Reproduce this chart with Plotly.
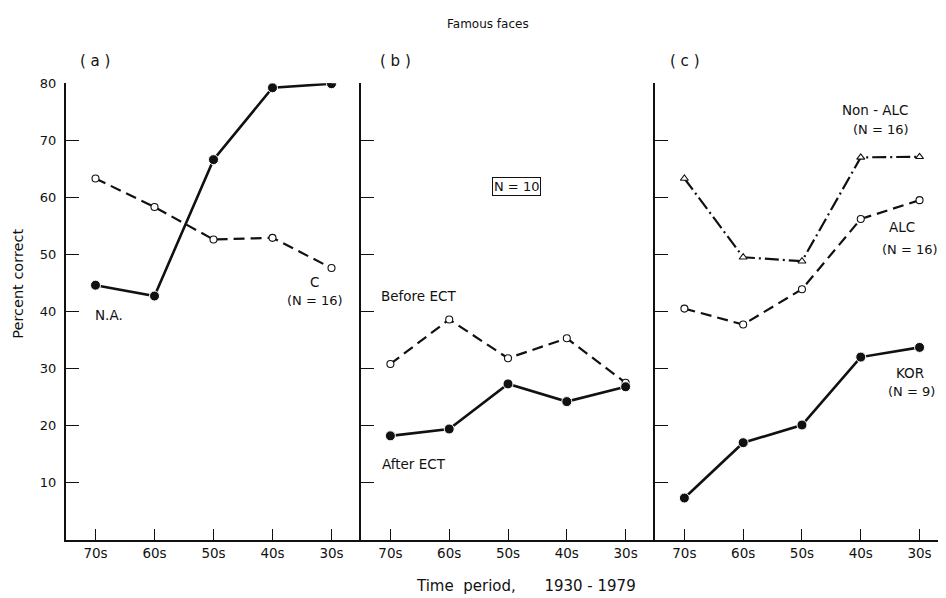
import plotly.graph_objects as go

# ---------------- data ----------------
periods = ["70s", "60s", "50s", "40s", "30s"]
y_ticks = [10, 20, 30, 40, 50, 60, 70, 80]

a_na = [44.6, 42.7, 66.6, 79.2, 79.9]      # N.A. (solid, filled)
a_c = [63.3, 58.3, 52.6, 52.9, 47.6]       # C (N=16) (dashed, open)

b_before = [30.8, 38.6, 31.8, 35.3, 27.5]  # Before ECT
b_after = [18.2, 19.4, 27.3, 24.2, 26.8]   # After ECT

c_nonalc = [63.3, 49.5, 48.8, 67.0, 67.1]  # Non-ALC (N=16)
c_alc = [40.5, 37.7, 43.9, 56.2, 59.5]     # ALC (N=16)
c_kor = [7.3, 17.0, 20.1, 32.0, 33.7]      # KOR (N=9)

# the page body has an 8px default margin; size the figure so it fits the window
OFF = 8
W, H = 946 - OFF, 598 - OFF
INK = "#111111"
FONT = "'DejaVu Sans', Lato, sans-serif"


def px(x):
    return (x - OFF) / W


def py(y):
    return 1 - (y - OFF) / H


xs = list(range(len(periods)))
fig = go.Figure()


def add(series, xa, ya, style):
    if style == "solid":
        line = dict(color=INK, width=2.6)
        marker = dict(symbol="circle", size=10, color=INK, line=dict(color="white", width=1))
    elif style == "dash":
        line = dict(color=INK, width=2.2, dash="11px,6px")
        marker = dict(symbol="circle", size=7, color="white", line=dict(color=INK, width=1.1))
    else:
        line = dict(color=INK, width=2.2, dash="14px,4px,2px,4px")
        marker = dict(symbol="triangle-up", size=7, color="white", line=dict(color=INK, width=1.1))
    fig.add_trace(go.Scatter(x=xs, y=series, mode="lines+markers", line=line,
                             marker=marker, xaxis=xa, yaxis=ya, showlegend=False,
                             hoverinfo="skip"))


add(a_c, "x", "y", "dash")
add(a_na, "x", "y", "solid")
add(b_before, "x2", "y2", "dash")
add(b_after, "x2", "y2", "solid")
add(c_nonalc, "x3", "y3", "dashdot")
add(c_alc, "x3", "y3", "dash")
add(c_kor, "x3", "y3", "solid")

ydom = [py(539), py(77)]
panels = [(66, 361, 4.5), (361, 655, 4.5), (655, 946, 4.45)]
for i, (l, r, rmax) in enumerate(panels):
    sfx = "" if i == 0 else str(i + 1)
    fig.layout["xaxis" + sfx] = dict(
        domain=[px(l), min(1.0, px(r))], range=[-0.5, rmax], anchor="y" + sfx,
        tickvals=xs, ticktext=periods, ticks="inside", ticklen=11, tickwidth=1.3,
        tickcolor=INK, showline=True, linecolor=INK, linewidth=2, showgrid=False,
        zeroline=False, tickfont=dict(size=13.5, color=INK, family=FONT), fixedrange=True)
    fig.layout["yaxis" + sfx] = dict(
        domain=ydom, range=[0, 80], anchor="x" + sfx,
        tickvals=y_ticks, ticks="inside", ticklen=13, tickwidth=1.2, tickcolor=INK,
        showline=True, linecolor=INK, linewidth=2, showgrid=False, zeroline=False,
        showticklabels=(i == 0), ticklabelstandoff=5,
        tickfont=dict(size=13, color=INK, family=FONT), fixedrange=True)

ann = []


def text(t, x, y, size=13, xanchor="center", **kw):
    ann.append(dict(text=t, x=px(x), y=py(y), xref="paper", yref="paper",
                    showarrow=False, xanchor=xanchor, yanchor="middle",
                    font=dict(size=size, color=INK, family=FONT), **kw))


text("Famous faces", 488, 17, size=12)
text("( a )", 95, 55, size=15)
text("( b )", 395, 55, size=15)
text("( c )", 685, 55, size=15)
text("Percent correct", 18, 280, size=14.5, textangle=-90)
text("N.A.", 93, 312, size=13.5, xanchor="left")
text("C", 314, 278, size=13.5)
text("(N = 16)", 315, 297)
text("Before ECT", 379, 292, size=13.5, xanchor="left")
text("After ECT", 380, 462, size=13.5, xanchor="left")
text("N = 10", 517, 182, bordercolor=INK, borderwidth=1, borderpad=1)
text("Non - ALC", 875, 104, size=13.5)
text("(N = 16)", 881, 124)
text("ALC", 902, 223, size=13.5)
text("(N = 16)", 910, 245)
text("KOR", 910, 370, size=13.5)
text("(N = 9)", 911, 389)
text("Time  period,      1930 - 1979", 526, 586, size=15)

fig.update_layout(width=W, height=H, margin=dict(l=0, r=0, t=0, b=0),
                  paper_bgcolor="white", plot_bgcolor="white", annotations=ann,
                  font=dict(family=FONT, color=INK))

fig.write_html("out.html")
